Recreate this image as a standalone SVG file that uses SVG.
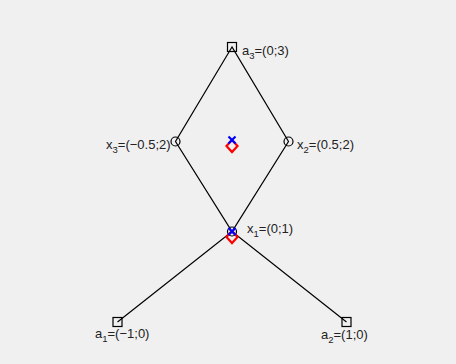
<svg xmlns="http://www.w3.org/2000/svg" width="456" height="364" viewBox="0 0 456 364">
<style>
.edge{stroke:#000;stroke-width:1.2;fill:none}
.sq,.ci{stroke:#000;stroke-width:1.2;fill:none}
.lbl{font-family:"Liberation Sans",Arial,Helvetica,sans-serif;font-size:13px;fill:#222}
.sub{font-size:9.5px}
.dia{stroke:#f00;stroke-width:2.2;fill:none}
.cross{stroke:#00f;stroke-width:2.2;fill:none}
</style>
<rect x="0" y="0" width="456" height="364" fill="#f0f0f0"/>
<g id="connectors">
<path class="edge" d="M232,47 L175.5,141.5 L232,231.5 L288.5,141.5 Z"/>
<path class="edge" d="M117.5,322 L232,231.5 L346.5,322"/>
</g>
<g id="a3">
<rect class="sq" x="227.5" y="42.5" width="9" height="9"/>
<text class="lbl" x="242" y="55">a<tspan class="sub" dy="4">3</tspan><tspan dy="-4">=(0;3)</tspan></text>
</g>
<g id="x3">
<circle class="ci" cx="175.5" cy="141.5" r="4.5"/>
<text class="lbl" x="106" y="149">x<tspan class="sub" dy="4">3</tspan><tspan dy="-4">=(−0.5;2)</tspan></text>
</g>
<g id="x2">
<circle class="ci" cx="288.5" cy="141.5" r="4.5"/>
<text class="lbl" x="297" y="149">x<tspan class="sub" dy="4">2</tspan><tspan dy="-4">=(0.5;2)</tspan></text>
</g>
<g id="x1">
<circle class="ci" cx="232" cy="231.5" r="4.5"/>
<text class="lbl" x="247" y="233">x<tspan class="sub" dy="4">1</tspan><tspan dy="-4">=(0;1)</tspan></text>
</g>
<g id="a1">
<rect class="sq" x="113" y="317.5" width="9" height="9"/>
<text class="lbl" x="95" y="338">a<tspan class="sub" dy="4">1</tspan><tspan dy="-4">=(−1;0)</tspan></text>
</g>
<g id="a2">
<rect class="sq" x="342" y="317.5" width="9" height="9"/>
<text class="lbl" x="321" y="339">a<tspan class="sub" dy="4">2</tspan><tspan dy="-4">=(1;0)</tspan></text>
</g>
<g id="point-upper">
<path class="dia" d="M232,140 L237.5,146 L232,152 L226.5,146 Z"/>
<path class="cross" d="M228.5,136.5 L235.5,143.5 M235.5,136.5 L228.5,143.5"/>
</g>
<g id="point-lower">
<path class="dia" d="M232,231 L237.5,237 L232,243 L226.5,237 Z"/>
<path class="cross" d="M228.5,228 L235.5,235 M235.5,228 L228.5,235"/>
</g>
</svg>
